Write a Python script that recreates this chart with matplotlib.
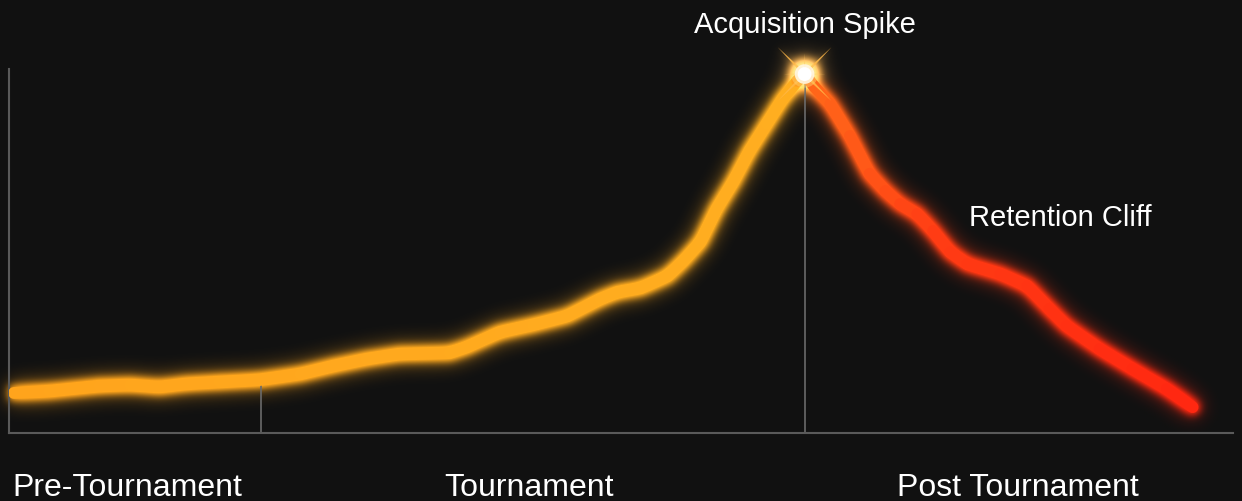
import matplotlib
matplotlib.use("Agg")
import matplotlib.pyplot as plt
import numpy as np
from matplotlib.collections import LineCollection
from matplotlib.colors import LinearSegmentedColormap
from matplotlib.path import Path

# engagement curve (x: 0..100 timeline, y: 0..100 index)
curve_x = [0.4, 3.3, 7.4, 9.9, 12.3, 14.5, 17.2, 20.5, 23.8, 26.5, 29.2, 31.9,
           36.0, 37.4, 40.1, 42.8, 45.6, 48.3, 49.7, 51.6, 53.8, 55.1, 56.5, 57.8,
           59.2, 60.5, 61.9, 63.2, 64.4, 65.0, 65.8, 67.1, 68.7, 70.3, 71.6, 72.8,
           74.2, 75.5, 76.9, 78.3, 81.0, 83.2, 85.0, 86.4, 89.1, 91.8, 94.6, 96.7]
curve_y = [11.0, 11.5, 12.9, 13.2, 12.6, 13.5, 14.0, 14.6, 16.2, 18.4, 20.3, 21.7,
           22.0, 23.6, 27.7, 29.7, 32.1, 36.8, 38.7, 39.8, 43.1, 47.3, 52.5, 61.5,
           69.2, 77.5, 84.9, 91.8, 96.7, 98.6, 95.1, 90.4, 81.6, 71.2, 66.5, 62.9,
           60.2, 55.5, 49.7, 46.4, 43.7, 40.4, 34.1, 29.4, 23.1, 17.6, 12.1, 7.1]

phase_bounds = [20.6, 65.0]
phase_labels = ["Pre-Tournament", "Tournament", "Post Tournament"]
phase_label_x = [9.7, 42.5, 82.4]
peak_label = "Acquisition Spike"
cliff_label = "Retention Cliff"

BG = "#111111"
W, H = 1242, 502
AX_RECT = [9 / W, 1 - 434 / H, 1224 / W, 364 / H]
plt.rcParams["font.family"] = ["Liberation Sans", "DejaVu Sans"]

x = np.array(curve_x)
y = np.array(curve_y)
peak_i = int(np.argmax(y))
px, py = x[peak_i], y[peak_i]

# orange up to the peak, then orange-red fading into red
cmap = LinearSegmentedColormap.from_list(
    "heat", [(0.0, "#ffa41c"), (0.645, "#ffae20"), (0.655, "#ff6a1a"),
             (0.76, "#ff3c14"), (1.0, "#ff2410")])
pts = np.column_stack([x, y]).reshape(-1, 1, 2)
segs = np.concatenate([pts[:-1], pts[1:]], axis=1)
colors = cmap((x[:-1] + x[1:]) / 2 / 100)


def sparkle(angle_deg, waist=0.06):
    # thin four-pointed star used as a marker
    a = np.deg2rad(angle_deg)
    verts = []
    for k in range(4):
        t = a + k * np.pi / 2
        verts.append((np.cos(t), np.sin(t)))
        verts.append((waist * np.cos(t + np.pi / 4), waist * np.sin(t + np.pi / 4)))
    verts.append(verts[0])
    return Path(verts, closed=True)


SPARK_X = sparkle(45)
SPARK_P = sparkle(0)


def draw_curve(ax, lw):
    ax.add_collection(LineCollection(segs, colors=colors, linewidths=lw,
                                     capstyle="round", joinstyle="round", zorder=3))


def draw_star(ax, glow=False):
    kw = dict(clip_on=False, zorder=6, edgecolors="none")
    if glow:
        ax.scatter([px], [py], s=560, color="#ff9a1a", alpha=0.9, **kw)
        ax.scatter([px], [py], s=240, color="#fff6d8", **kw)
    ax.scatter([px], [py], s=1500, marker=SPARK_X, color="#ffb848", alpha=0.85, **kw)
    ax.scatter([px], [py], s=900, marker=SPARK_P, color="#ffc860", alpha=0.6, **kw)
    ax.scatter([px], [py], s=380, color="#ffcc66", alpha=0.5, **kw)
    ax.scatter([px], [py], s=200, color="#fff6e0", alpha=0.9, **kw)
    ax.scatter([px], [py], s=100, color="#ffffff", **kw)


def make_axes(fig):
    ax = fig.add_axes(AX_RECT)
    ax.set_xlim(0, 100)
    ax.set_ylim(0, 100)
    ax.set_xticks([])
    ax.set_yticks([])
    return ax


# --- glow layer: render the curve offscreen, blur it, lay it under the chart
gfig = plt.figure(figsize=(W / 100, H / 100), dpi=100)
gfig.patch.set_alpha(0)
gax = make_axes(gfig)
gax.set_facecolor("none")
gax.axis("off")
draw_curve(gax, 11)
draw_star(gax, glow=True)
gfig.canvas.draw()
rgba = np.asarray(gfig.canvas.buffer_rgba()).astype(float) / 255.0
plt.close(gfig)


def blur(img, sigma):
    r = int(3 * sigma)
    k = np.exp(-0.5 * (np.arange(-r, r + 1) / sigma) ** 2)
    k /= k.sum()
    out = np.apply_along_axis(lambda v: np.convolve(v, k, mode="same"), 0, img)
    return np.apply_along_axis(lambda v: np.convolve(v, k, mode="same"), 1, out)


premul = rgba.copy()
premul[..., :3] *= premul[..., 3:4]
glow = np.zeros_like(premul)
for sigma, gain in [(4, 0.95), (10, 0.75)]:
    for c in range(4):
        glow[..., c] += gain * blur(premul[..., c], sigma)
glow = np.clip(glow, 0, 1)
alpha = glow[..., 3:4]
glow_rgb = np.where(alpha > 1e-4, glow[..., :3] / np.maximum(alpha, 1e-4), 0)
glow_img = np.concatenate([np.clip(glow_rgb, 0, 1), alpha], axis=2)

# --- main figure
fig = plt.figure(figsize=(W / 100, H / 100), dpi=100, facecolor=BG)
fig.figimage(glow_img[::-1], xo=0, yo=0, origin="lower", zorder=-1)
ax = make_axes(fig)
ax.set_facecolor("none")

for side in ("top", "right"):
    ax.spines[side].set_visible(False)
for side in ("left", "bottom"):
    ax.spines[side].set_color("#5a5a5a")
    ax.spines[side].set_linewidth(1.5)

# phase dividers run from the axis up to the curve
for b in phase_bounds:
    ax.plot([b, b], [0, np.interp(b, x, y)], color="#6a6a6a", lw=1.2, zorder=1)

draw_curve(ax, 8.5)
draw_star(ax)

ax.text(px, (434 - 33) / 364, peak_label, transform=ax.get_xaxis_transform(),
        ha="center", va="baseline", color="white", fontsize=21, clip_on=False)
ax.text(85.9, 57.1, cliff_label, ha="center", va="baseline", color="white", fontsize=21)

for lx, lab in zip(phase_label_x, phase_labels):
    ax.text(lx, (434 - 496) / 364, lab, transform=ax.get_xaxis_transform(),
            ha="center", va="baseline", color="white", fontsize=23, clip_on=False)

fig.savefig("out.png", dpi=100, facecolor=BG)
